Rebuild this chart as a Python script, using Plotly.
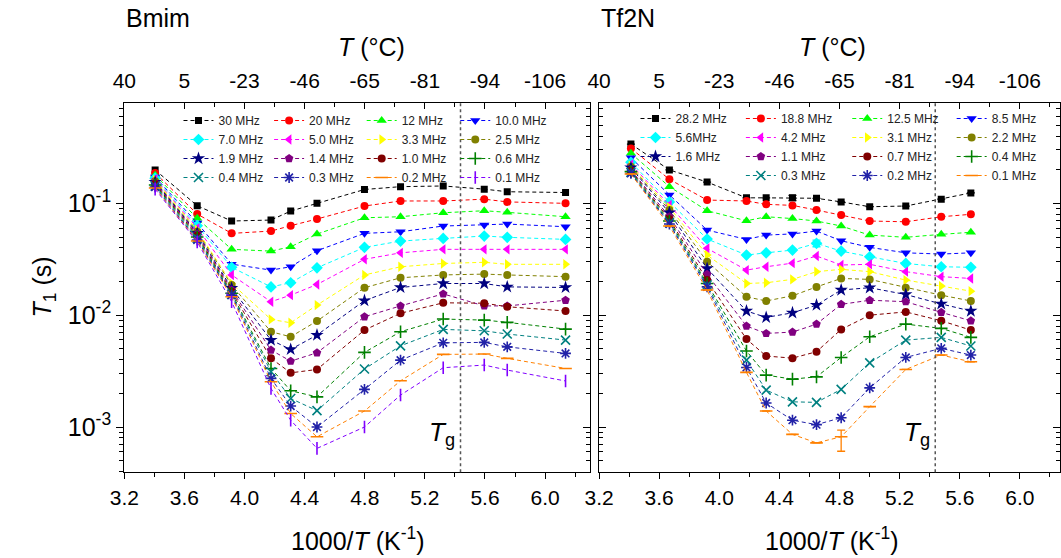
import plotly.graph_objects as go

W, H = 1061, 558
FONT = "Liberation Sans, Arial, sans-serif"

# 1000/T (K^-1) of the measurement temperatures
bmim_inv_t = [3.405, 3.685, 3.914, 4.176, 4.307, 4.482, 4.798, 5.038, 5.322, 5.595, 5.748, 6.136]
tf2n_inv_t = [3.412, 3.668, 3.919, 4.181, 4.312, 4.487, 4.647, 4.811, 5.001, 5.241, 5.477, 5.674]

# glass transition, 1000/Tg (K^-1)
tg_inv = 5.437

# ---- Bmim: T1 (s) per Larmor frequency ----
bmim_labels = ["30 MHz", "20 MHz", "12 MHz", "10.0 MHz", "7.0 MHz", "5.0 MHz", "3.3 MHz", "2.5 MHz",
               "1.9 MHz", "1.4 MHz", "1.0 MHz", "0.6 MHz", "0.4 MHz", "0.3 MHz", "0.2 MHz", "0.1 MHz"]
bmim_30 = [0.199, 0.0952, 0.0695, 0.0709, 0.0853, 0.100, 0.133, 0.141, 0.143, 0.134, 0.127, 0.125]
bmim_20 = [0.187, 0.0802, 0.0539, 0.0565, 0.0631, 0.0724, 0.0946, 0.105, 0.105, 0.109, 0.103, 0.100]
bmim_12 = [0.179, 0.0734, 0.0388, 0.0374, 0.0409, 0.0531, 0.0743, 0.0759, 0.0824, 0.0859, 0.0831, 0.0759]
bmim_10 = [0.172, 0.0667, 0.0286, 0.0253, 0.0271, 0.0377, 0.0539, 0.0557, 0.0627, 0.0640, 0.0653, 0.0618]
bmim_7 = [0.168, 0.0631, 0.0268, 0.0179, 0.0195, 0.0265, 0.0404, 0.0460, 0.0486, 0.0510, 0.0497, 0.0476]
bmim_5 = [0.165, 0.0601, 0.0229, 0.0132, 0.0151, 0.0188, 0.0316, 0.0361, 0.0388, 0.0388, 0.0388, 0.0388]
bmim_3p3 = [0.162, 0.0577, 0.0192, 0.00917, 0.00855, 0.0123, 0.0229, 0.0271, 0.0290, 0.0297, 0.0285, 0.0285]
bmim_2p5 = [0.158, 0.0557, 0.0186, 0.00711, 0.00641, 0.00886, 0.0176, 0.0216, 0.0229, 0.0233, 0.0229, 0.0221]
bmim_1p9 = [0.155, 0.0542, 0.0174, 0.00599, 0.00494, 0.00664, 0.0135, 0.0177, 0.0192, 0.0192, 0.0179, 0.0177]
bmim_1p4 = [0.152, 0.0531, 0.0168, 0.00488, 0.00388, 0.00461, 0.00968, 0.0121, 0.0155, 0.0121, 0.0121, 0.0136]
bmim_1p0 = [0.149, 0.0513, 0.0162, 0.00411, 0.00305, 0.00327, 0.00736, 0.0104, 0.0129, 0.0128, 0.0119, 0.0109]
bmim_0p6 = [0.146, 0.0500, 0.0157, 0.00334, 0.00211, 0.00186, 0.00465, 0.00711, 0.00923, 0.00904, 0.00863, 0.00751]
bmim_0p4 = [0.143, 0.0486, 0.0153, 0.00312, 0.00180, 0.00140, 0.00330, 0.00532, 0.00746, 0.00725, 0.00678, 0.00599]
bmim_0p3 = [0.140, 0.0470, 0.0151, 0.00272, 0.00154, 0.00100, 0.00217, 0.00396, 0.00566, 0.00571, 0.00521, 0.00455]
bmim_0p2 = [0.137, 0.0460, 0.0146, 0.00254, 0.00132, 0.000817, 0.00139, 0.00259, 0.00446, 0.00449, 0.00411, 0.00334]
bmim_0p1 = [0.134, 0.0451, 0.0132, 0.00221, 0.00115, 0.000644, 0.00100, 0.00193, 0.00339, 0.00358, 0.00323, 0.00258]
bmim_series = [bmim_30, bmim_20, bmim_12, bmim_10, bmim_7, bmim_5, bmim_3p3, bmim_2p5,
               bmim_1p9, bmim_1p4, bmim_1p0, bmim_0p6, bmim_0p4, bmim_0p3, bmim_0p2, bmim_0p1]

# ---- Tf2N: T1 (s) per Larmor frequency ----
tf2n_labels = ["28.2 MHz", "18.8 MHz", "12.5 MHz", "8.5 MHz", "5.6MHz", "4.2 MHz", "3.1 MHz", "2.2 MHz",
               "1.6 MHz", "1.1 MHz", "0.7 MHz", "0.4 MHz", "0.3 MHz", "0.2 MHz", "0.1 MHz"]
tf2n_28p2 = [0.339, 0.199, 0.155, 0.112, 0.112, 0.112, 0.111, 0.103, 0.0933, 0.0946, 0.109, 0.124]
tf2n_18p8 = [0.310, 0.164, 0.107, 0.105, 0.0980, 0.0959, 0.0871, 0.0786, 0.0695, 0.0684, 0.0759, 0.0798]
tf2n_12p5 = [0.280, 0.141, 0.0859, 0.0698, 0.0759, 0.0731, 0.0695, 0.0627, 0.0520, 0.0497, 0.0528, 0.0551]
tf2n_8p5 = [0.256, 0.119, 0.0577, 0.0476, 0.0520, 0.0533, 0.0565, 0.0463, 0.0404, 0.0361, 0.0352, 0.0361]
tf2n_5p6 = [0.233, 0.103, 0.0480, 0.0345, 0.0361, 0.0382, 0.0439, 0.0374, 0.0333, 0.0290, 0.0271, 0.0268]
tf2n_4p2 = [0.223, 0.0966, 0.0396, 0.0253, 0.0271, 0.0292, 0.0338, 0.0281, 0.0285, 0.0245, 0.0221, 0.0213]
tf2n_3p1 = [0.217, 0.0921, 0.0345, 0.0192, 0.0195, 0.0209, 0.0245, 0.0257, 0.0245, 0.0206, 0.0182, 0.0164]
tf2n_2p2 = [0.212, 0.0871, 0.0301, 0.0146, 0.0134, 0.0149, 0.0179, 0.0213, 0.0209, 0.0176, 0.0151, 0.0134]
tf2n_1p6 = [0.208, 0.0824, 0.0262, 0.0109, 0.00955, 0.0105, 0.0123, 0.0168, 0.0176, 0.0153, 0.0126, 0.0109]
tf2n_1p1 = [0.199, 0.0759, 0.0232, 0.00799, 0.00687, 0.00706, 0.00832, 0.0125, 0.0136, 0.0132, 0.0106, 0.00891]
tf2n_0p7 = [0.196, 0.0719, 0.0206, 0.00611, 0.00431, 0.00413, 0.00471, 0.00746, 0.0100, 0.0107, 0.00891, 0.00736]
tf2n_0p4 = [0.192, 0.0695, 0.0192, 0.00478, 0.00291, 0.00268, 0.00281, 0.00419, 0.00641, 0.00832, 0.00762, 0.00633]
tf2n_0p3 = [0.189, 0.0670, 0.0186, 0.00396, 0.00214, 0.00168, 0.00166, 0.00217, 0.00375, 0.00599, 0.00633, 0.00530]
tf2n_0p2 = [0.185, 0.0653, 0.0179, 0.00341, 0.00164, 0.00115, 0.00105, 0.00121, 0.00224, 0.00419, 0.00505, 0.00440]
tf2n_0p1 = [0.183, 0.0627, 0.0168, 0.00308, 0.00139, 0.000859, 0.000722, 0.000817, 0.00152, 0.00327, 0.00440, 0.00383]
tf2n_series = [tf2n_28p2, tf2n_18p8, tf2n_12p5, tf2n_8p5, tf2n_5p6, tf2n_4p2, tf2n_3p1, tf2n_2p2,
               tf2n_1p6, tf2n_1p1, tf2n_0p7, tf2n_0p4, tf2n_0p3, tf2n_0p2, tf2n_0p1]

# error bars (s) on a few Tf2N points: (series index, point index, plus, minus)
tf2n_errors = [(0, 5, 0.006, 0.006), (4, 6, 0.003, 0.003), (14, 7, 0.00012, 0.00021)]

# axis ticks
x_ticks = [3.2, 3.6, 4.0, 4.4, 4.8, 5.2, 5.6, 6.0]
x_tick_text = ["3.2", "3.6", "4.0", "4.4", "4.8", "5.2", "5.6", "6.0"]
x_minor = [3.4, 3.8, 4.2, 4.6, 5.0, 5.4, 5.8, 6.2]
top_tick_text = ["40", "5", "-23", "-46", "-65", "-81", "-94", "-106"]
y_ticks = [0.001, 0.01, 0.1]
y_tick_text = ["10<sup>-3</sup>", "10<sup>-2</sup>", "10<sup>-1</sup>"]
y_minor = [m * 10.0 ** e for e in (-4, -3, -2, -1) for m in range(2, 10)]

# styles (Origin-like palette)
colors = ["#000000", "#FF0000", "#00FF00", "#0000FF", "#00FFFF", "#FF00FF", "#FFFF00", "#808000",
          "#000080", "#800080", "#800000", "#008000", "#008080", "#2222A8", "#FF8000", "#8000FF"]
bmim_symbols = ["square", "circle", "triangle-up", "triangle-down", "diamond", "triangle-left",
                "triangle-right", "circle", "star", "pentagon", "circle", "cross-thin", "x-thin",
                "asterisk", "line-ew", "line-ns"]
tf2n_colors = colors[:15]
tf2n_symbols = ["square", "circle", "triangle-up", "triangle-down", "diamond", "triangle-left",
                "triangle-right", "circle", "star", "pentagon", "circle", "cross-thin", "x-thin",
                "asterisk", "line-ew"]
sizes = {"square": 7, "circle": 8, "triangle-up": 9, "triangle-down": 9, "diamond": 9,
         "triangle-left": 9, "triangle-right": 9, "star": 10, "pentagon": 9,
         "cross-thin": 9, "x-thin": 9, "asterisk": 9, "line-ew": 9, "line-ns": 9}
THIN = {"cross-thin", "x-thin", "asterisk", "line-ew", "line-ns"}

# legend columns (indices into each series list)
bmim_columns = [[0, 4, 8, 12], [1, 5, 9, 13], [2, 6, 10, 14], [3, 7, 11, 15]]
tf2n_columns = [[0, 4, 8], [1, 5, 9, 12], [2, 6, 10, 13], [3, 7, 11, 14]]

fig = go.Figure()


def marker_for(symbol, color):
    thin = symbol in THIN
    return dict(symbol=symbol + ("-open" if thin else ""), size=sizes[symbol], color=color,
                line=dict(color=color, width=1.6 if thin else 0))


def add_panel(xvals, series, labels, cols, symbols, columns, xa, ya, legend_names, errors=()):
    legend_of = {}
    for k, col in enumerate(columns):
        for idx in col:
            legend_of[idx] = legend_names[k]
    for i, yv in enumerate(series):
        err = None
        pts = [e for e in errors if e[0] == i]
        if pts:
            plus = [0.0] * len(yv)
            minus = [0.0] * len(yv)
            for _, j, p, m in pts:
                plus[j] = p
                minus[j] = m
            err = dict(type="data", array=plus, arrayminus=minus, visible=True,
                       color=cols[i], thickness=1.3, width=4)
        fig.add_trace(go.Scatter(
            x=xvals, y=yv, name=labels[i], mode="lines+markers",
            line=dict(color=cols[i], width=1, dash="4px,3px"),
            marker=marker_for(symbols[i], cols[i]),
            error_y=err, xaxis=xa, yaxis=ya, legend=legend_of[i],
        ))


# each legend column lists its entries top to bottom
add_panel(bmim_inv_t, bmim_series, bmim_labels, colors, bmim_symbols, bmim_columns,
          "x", "y", ["legend", "legend2", "legend3", "legend4"])
add_panel(tf2n_inv_t, tf2n_series, tf2n_labels, tf2n_colors, tf2n_symbols, tf2n_columns,
          "x2", "y2", ["legend5", "legend6", "legend7", "legend8"], tf2n_errors)

# panel geometry in pixels
LX0, LX1 = 111, 584
RX0, RX1 = 593, 1061
PY0, PY1 = 102.7, 472.3
y_dom = [1 - PY1 / H, 1 - PY0 / H]
x_range_l = [3.2, 6.3]
x_range_r = [3.2, 3.2 + (RX1 - RX0) / ((LX1 - LX0) / 3.1)]
y_range = [-3.405, -0.1]

AX = dict(showline=True, linecolor="black", linewidth=1.3, showgrid=False, zeroline=False,
          tickcolor="black", tickwidth=1.3, tickfont=dict(family=FONT, size=21, color="black"))


def xaxis(domain, rng, anchor, ticks, labels=True, top=False, overlay=None):
    d = dict(AX, domain=domain, range=rng, anchor=anchor, tickmode="array", tickvals=x_ticks,
             ticktext=top_tick_text if top else x_tick_text, ticks=ticks, ticklen=6,
             showticklabels=labels,
             minor=dict(tickmode="array", tickvals=x_minor, ticks=ticks, ticklen=4,
                        tickwidth=1.3, tickcolor="black"))
    if top:
        d["side"] = "top"
        d["ticklabelstandoff"] = 5
    if overlay:
        d["overlaying"] = overlay
    return d


def yaxis(anchor, ticks, labels=False, side="left", overlay=None, mirror=False):
    d = dict(AX, domain=y_dom, type="log", range=y_range, anchor=anchor, tickmode="array",
             tickvals=y_ticks, ticktext=y_tick_text, ticks=ticks, ticklen=7, side=side,
             showticklabels=labels, mirror=mirror,
             tickfont=dict(family=FONT, size=25, color="black"),
             minor=dict(tickmode="array", tickvals=y_minor, ticks=ticks, ticklen=4,
                        tickwidth=1.3, tickcolor="black"))
    if overlay:
        d["overlaying"] = overlay
    return d


def legend_at(xpx, ypx):
    return dict(x=xpx / W, y=1 - ypx / H, xanchor="left", yanchor="top", orientation="v",
                bgcolor="rgba(0,0,0,0)", borderwidth=0, tracegroupgap=0, itemwidth=30,
                font=dict(family=FONT, size=12, color="#222"))


ld = [(166, 106), (258, 106), (352, 106), (447, 106),
      (630, 104), (737, 104), (845, 104), (951, 104)]
legends = {("legend" if i == 0 else f"legend{i + 1}"): legend_at(*p) for i, p in enumerate(ld)}

fig.update_layout(
    width=W, height=H, margin=dict(l=0, r=0, t=0, b=0),
    paper_bgcolor="white", plot_bgcolor="white",
    font=dict(family=FONT, color="black"),
    xaxis=xaxis([LX0 / W, LX1 / W], x_range_l, "y", "outside"),
    xaxis2=xaxis([RX0 / W, 1.0], x_range_r, "y2", "outside"),
    xaxis3=xaxis([LX0 / W, LX1 / W], x_range_l, "y", "inside", top=True, overlay="x"),
    xaxis4=xaxis([RX0 / W, 1.0], x_range_r, "y2", "inside", top=True, overlay="x2"),
    yaxis=yaxis("x", "outside", labels=True),
    yaxis2=yaxis("x2", "inside", mirror="ticks"),
    yaxis3=yaxis("x", "inside", side="right", overlay="y"),
    showlegend=True,
    **legends,
)

# placeholders so the overlaid top/right axes get drawn
fig.add_trace(go.Scatter(x=[None], y=[None], xaxis="x3", yaxis="y", showlegend=False, hoverinfo="skip"))
fig.add_trace(go.Scatter(x=[None], y=[None], xaxis="x4", yaxis="y2", showlegend=False, hoverinfo="skip"))
fig.add_trace(go.Scatter(x=[None], y=[None], xaxis="x", yaxis="y3", showlegend=False, hoverinfo="skip"))

# glass transition markers
for xref, yref in (("x", "y domain"), ("x2", "y2 domain")):
    fig.add_shape(type="line", xref=xref, yref=yref, x0=tg_inv, x1=tg_inv, y0=0, y1=1,
                  line=dict(color="#555", width=1.5, dash="dot"))


def text(x, y, s, size, xanchor="center", yanchor="middle", angle=0):
    fig.add_annotation(x=x / W, y=1 - y / H, xref="paper", yref="paper", text=s, showarrow=False,
                       xanchor=xanchor, yanchor=yanchor, textangle=angle,
                       font=dict(family=FONT, size=size, color="black"))


text(111, 18, "Bmim", 25, xanchor="left")
text(593, 18, "Tf2N", 25, xanchor="left")
text(362, 47, "<i>T</i> (°C)", 25)
text(830, 47, "<i>T</i> (°C)", 25)
text(348, 539, "1000/<i>T</i> (K<sup>-1</sup>)", 25)
text(830, 539, "1000/<i>T</i> (K<sup>-1</sup>)", 25)
text(29, 287, "<i>T</i><sub>1</sub> (s)", 25, angle=-90)
text(449, 433, "<i>T</i><sub>g</sub>", 26, xanchor="right")
text(931, 433, "<i>T</i><sub>g</sub>", 26, xanchor="right")

fig.write_html("out.html")
